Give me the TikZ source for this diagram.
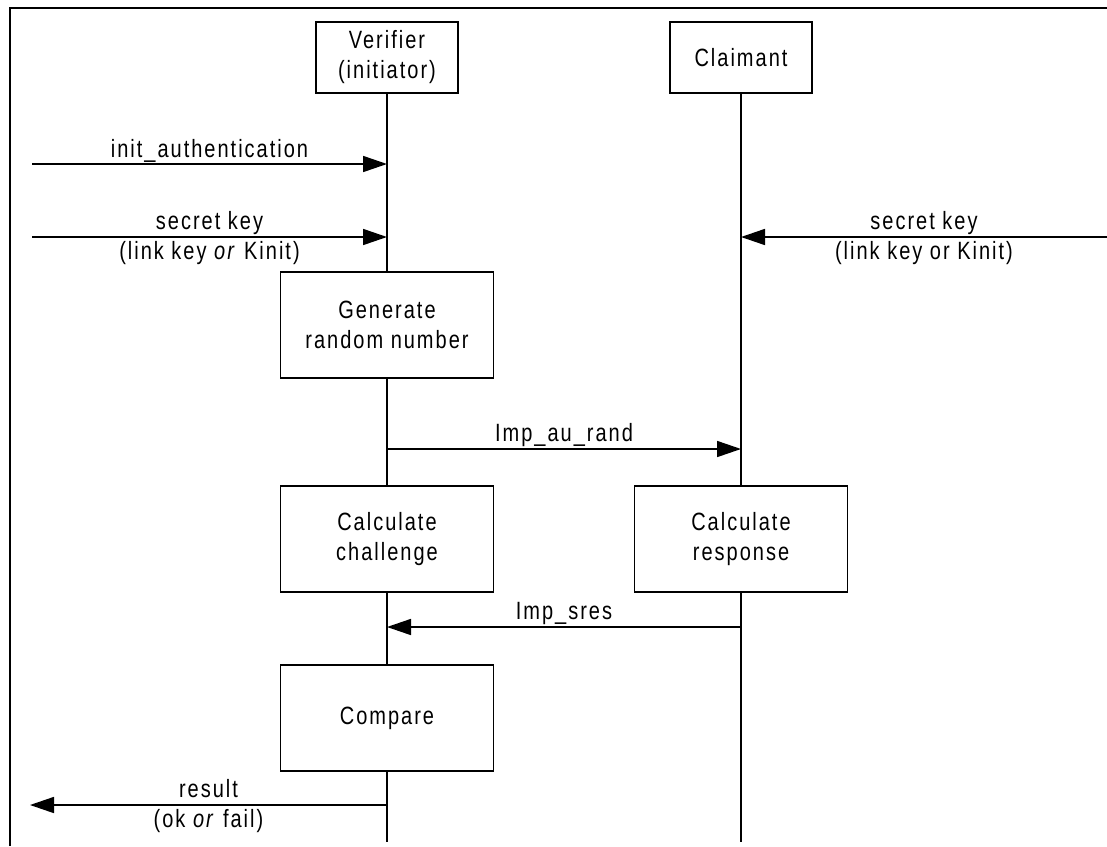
\documentclass[tikz,border=0pt]{standalone}
\usepackage{fontspec}
\setmainfont{Liberation Sans}[LetterSpace=8, FakeStretch=0.8]
\usetikzlibrary{arrows.meta}
\begin{document}
\begin{tikzpicture}[x=1pt,y=-1pt,
  every node/.style={font=\fontsize{25}{30}\selectfont, inner sep=0pt},
  box/.style={draw, line width=1.8pt, align=center},
  life/.style={line width=1.6pt},
  msg/.style={line width=1.6pt, -{Triangle[length=24pt,width=16pt]}},
  up/.style={midway, anchor=base, yshift=8pt},
  down/.style={midway, anchor=base, yshift=-22pt}]
\useasboundingbox (0,0) rectangle (1107,846);
% frame
\coordinate (fbl) at (10,846);
\coordinate (ftl) at (10,8);
\coordinate (ftr) at (1107,8);
\draw[line width=2pt] (fbl) -- (ftl) -- (ftr);
% participants
\node[box, minimum width=142pt, minimum height=71pt] (ver) at (387,57.5) {Verifier\\(initiator)};
\node[box, minimum width=142pt, minimum height=71pt] (cla) at (741,57.5) {Claimant};
% process boxes
\node[box, minimum width=213pt, minimum height=106pt] (gen) at (387,325) {Generate\\random number};
\node[box, minimum width=213pt, minimum height=106pt] (chal) at (387,539) {Calculate\\challenge};
\node[box, minimum width=213pt, minimum height=106pt] (resp) at (741,539) {Calculate\\response};
\node[box, minimum width=213pt, minimum height=106pt] (cmp) at (387,718) {Compare};
% lifeline ends
\coordinate (vend) at (387,842);
\coordinate (cend) at (741,842);
% lifelines
\draw[life] (ver.south) -- (gen.north);
\draw[life] (gen.south) -- (chal.north);
\draw[life] (chal.south) -- (cmp.north);
\draw[life] (cmp.south) -- (vend);
\draw[life] (cla.south) -- (resp.north);
\draw[life] (resp.south) -- (cend);
% message end points
\coordinate (iaL) at (32,164);
\coordinate (iaV) at (387,164);
\coordinate (skL) at (32,237);
\coordinate (skV) at (387,237);
\coordinate (skR) at (1107,237);
\coordinate (skC) at (741,237);
\coordinate (arV) at (387,449);
\coordinate (arC) at (741,449);
\coordinate (srC) at (741,627);
\coordinate (srV) at (387,627);
\coordinate (rsV) at (387,805);
\coordinate (rsL) at (30,805);
% messages
\draw[msg] (iaL) -- (iaV) node[up, yshift=-1pt] (lia) {init\_authentication};
\draw[msg] (skL) -- (skV)
  node[up] (lsk1) {secret key}
  node[down] (lsk2) {(link key \textit{or} Kinit)};
\draw[msg] (skR) -- (skC)
  node[up] (rsk1) {secret key}
  node[down] (rsk2) {(link key or Kinit)};
\draw[msg] (arV) -- (arC) node[up] (lar) {Imp\_au\_rand};
\draw[msg] (srC) -- (srV) node[up] (lsr) {Imp\_sres};
\draw[msg] (rsV) -- (rsL)
  node[up] (lrs1) {result}
  node[down] (lrs2) {(ok \textit{or} fail)};
\end{tikzpicture}
\end{document}
